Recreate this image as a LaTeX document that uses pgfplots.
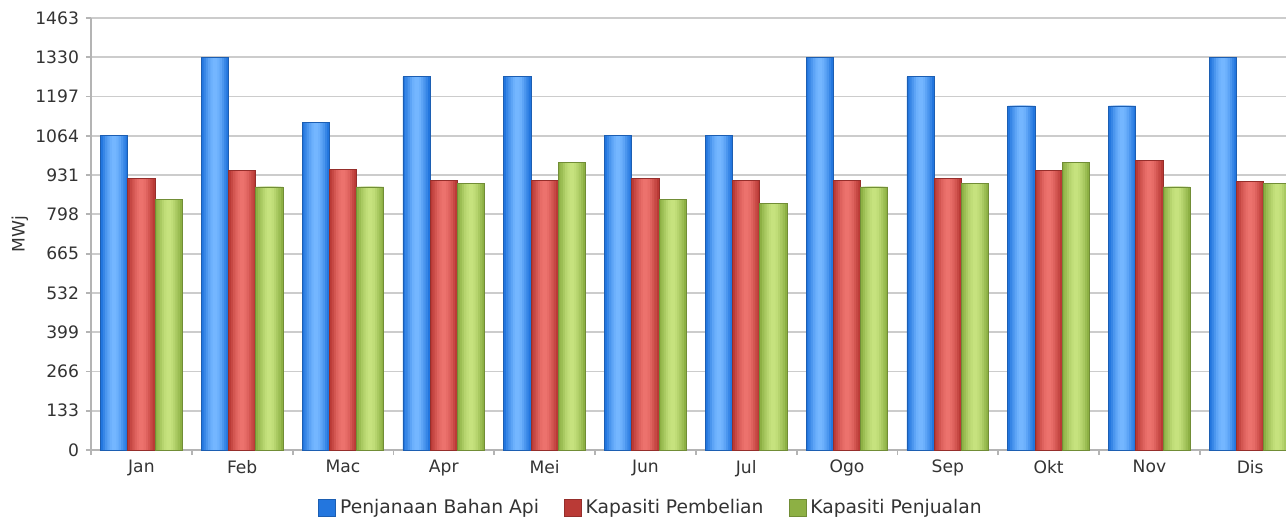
\documentclass[border=0pt]{standalone}
\usepackage{pgfplots}
\usepackage{pgfplotstable}
\pgfplotsset{compat=1.18}
\usepackage{fontspec}
\setmainfont{DejaVu Sans}
\definecolor{bluD}{HTML}{2376DE}
\definecolor{bluL}{HTML}{74B6FF}
\definecolor{redD}{HTML}{BA3A36}
\definecolor{redL}{HTML}{EC726D}
\definecolor{grnD}{HTML}{8DB044}
\definecolor{grnL}{HTML}{C6E27E}
\definecolor{gridc}{HTML}{CCCCCC}
\definecolor{axc}{HTML}{B4B4B4}
\definecolor{txt}{HTML}{333333}
\pgfplotsset{sqlegend/.style={legend image code/.code={\draw[##1] (-1.5bp,-4.25bp) rectangle (7bp,4.25bp);}}}
\pgfplotstableread{
x blue red green
0 1064 919 849
1 1330 947 891
2 1108 951 891
3 1264 914 903
4 1264 914 974
5 1064 919 847
6 1064 914 835
7 1330 914 891
8 1264 919 903
9 1165 947 974
10 1165 981 891
11 1330 909 903
}\data
% #1 column, #2 dark colour, #3 light colour, #4 shift
\newcommand{\sbars}[4]{%
\addplot[bar shift=#4, bar width=0.27, fill=#2, draw=none, forget plot] table[x=x,y=#1]{\data};
\addplot[bar shift=#4, bar width=0.225, fill=#3!25!#2, draw=none, forget plot] table[x=x,y=#1]{\data};
\addplot[bar shift=#4, bar width=0.18, fill=#3!50!#2, draw=none, forget plot] table[x=x,y=#1]{\data};
\addplot[bar shift=#4, bar width=0.135, fill=#3!72!#2, draw=none, forget plot] table[x=x,y=#1]{\data};
\addplot[bar shift=#4, bar width=0.09, fill=#3!90!#2, draw=none, forget plot] table[x=x,y=#1]{\data};
\addplot[bar shift=#4, bar width=0.045, fill=#3, draw=none, forget plot] table[x=x,y=#1]{\data};
\addplot[bar shift=#4, bar width=0.27, fill=none, draw=#2!80!black, line width=0.4bp, forget plot] table[x=x,y=#1]{\data};
}
\begin{document}
\begin{tikzpicture}
\path[use as bounding box] (-45.5bp,-33.5bp) rectangle (597.5bp,225bp);
\begin{axis}[at={(0,0)}, anchor=south west, scale only axis,
  width=597.5bp, height=216bp,
  xmin=-0.5, xmax=11.355, ymin=0, ymax=1463,
  axis lines*=left,
  axis line style={draw=axc, line width=0.9bp},
  ytick={0,133,266,399,532,665,798,931,1064,1197,1330,1463},
  xtick={0,...,11},
  xticklabels={Jan,Feb,Mac,Apr,Mei,Jun,Jul,Ogo,Sep,Okt,Nov,Dis},
  minor xtick={-0.5,0.5,...,11.5},
  major x tick style={draw=none},
  minor x tick style={draw=axc, line width=0.9bp},
  major y tick style={draw=axc, line width=0.9bp},
  tick align=outside,
  major tick length=2.5bp, minor tick length=2.5bp,
  ymajorgrids, grid style={draw=gridc, line width=0.9bp},
  /pgf/number format/assume math mode=true,
  /pgf/number format/1000 sep={},
  tick label style={font=\fontsize{8.6}{10}\selectfont, text=txt},
  xticklabel style={yshift=1bp},
  ylabel={MWj},
  ylabel style={font=\fontsize{8.6}{10}\selectfont, text=txt, at={(axis description cs:-0.0594,0.5)}, anchor=center},
  legend columns=3,
  legend style={draw=none, fill=none, at={(axis description cs:0.4695,-0.134)}, anchor=center,
    font=\fontsize{9.4}{11}\selectfont, text=txt,
    /tikz/every even column/.append style={column sep=10.5bp}},
  legend cell align=left,
  ybar,
]
\sbars{blue}{bluD}{bluL}{-0.27}
\sbars{red}{redD}{redL}{0}
\sbars{green}{grnD}{grnL}{0.27}
\addlegendimage{sqlegend, fill=bluD, draw=bluD!80!black, line width=0.4bp}
\addlegendentry{Penjanaan Bahan Api}
\addlegendimage{sqlegend, fill=redD, draw=redD!80!black, line width=0.4bp}
\addlegendentry{Kapasiti Pembelian}
\addlegendimage{sqlegend, fill=grnD, draw=grnD!80!black, line width=0.4bp}
\addlegendentry{Kapasiti Penjualan}
\end{axis}
\end{tikzpicture}
\end{document}
